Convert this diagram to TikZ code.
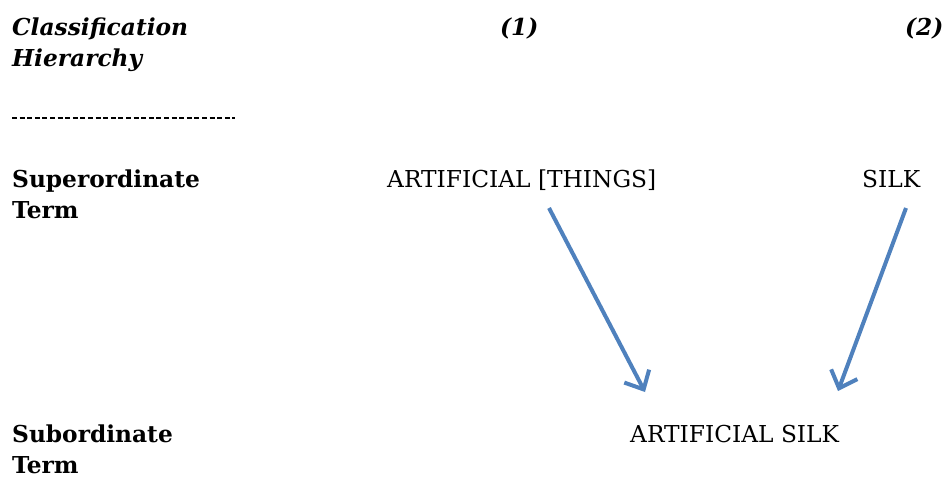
\documentclass[tikz,border=0pt]{standalone}
\usepackage{fontspec}
\setmainfont{DejaVu Serif}
\usetikzlibrary{arrows.meta}
\definecolor{arrowblue}{RGB}{79,129,189}
\tikzset{
  x=1pt, y=-1pt,
  lbl/.style={anchor=base west, inner sep=0pt, font=\fontsize{23.3}{31}\selectfont\bfseries},
  hdr/.style={anchor=base west, inner sep=0pt, font=\fontsize{23.3}{31}\selectfont\bfseries\itshape},
  term/.style={anchor=base west, inner sep=0pt, font=\fontsize{23.3}{31}\selectfont},
  link/.style={arrowblue, line width=4pt, -{Straight Barb[length=15pt,width=28pt]}}
}
\begin{document}
\begin{tikzpicture}
\useasboundingbox (0,0) rectangle (952,479);
% column headings
\node[hdr] (hd1) at (12,35) {Classification};
\node[hdr] (hd2) at (12,66) {Hierarchy};
\node[hdr] (c1) at (500,35) {(1)};
\node[hdr] (c2) at (905,35) {(2)};
\draw[line width=1.5pt, dash pattern=on 5pt off 2.6pt] (12,118) -- (235,118);
% row labels
\node[lbl] (sup1) at (12,187) {Superordinate};
\node[lbl] (sup2) at (12,218) {Term};
\node[lbl] (sub1) at (12,442) {Subordinate};
\node[lbl] (sub2) at (12,473) {Term};
% terms
\node[term] (art) at (387,187) {ARTIFICIAL [THINGS]};
\node[term] (silk) at (862,187) {SILK};
\node[term] (asilk) at (630,442) {ARTIFICIAL SILK};
% arrow endpoints
\coordinate (a1) at (549,208);
\coordinate (b1) at (645,392);
\coordinate (a2) at (906,208);
\coordinate (b2) at (838,391);
\draw[link] (a1) -- (b1);
\draw[link] (a2) -- (b2);
\end{tikzpicture}
\end{document}
